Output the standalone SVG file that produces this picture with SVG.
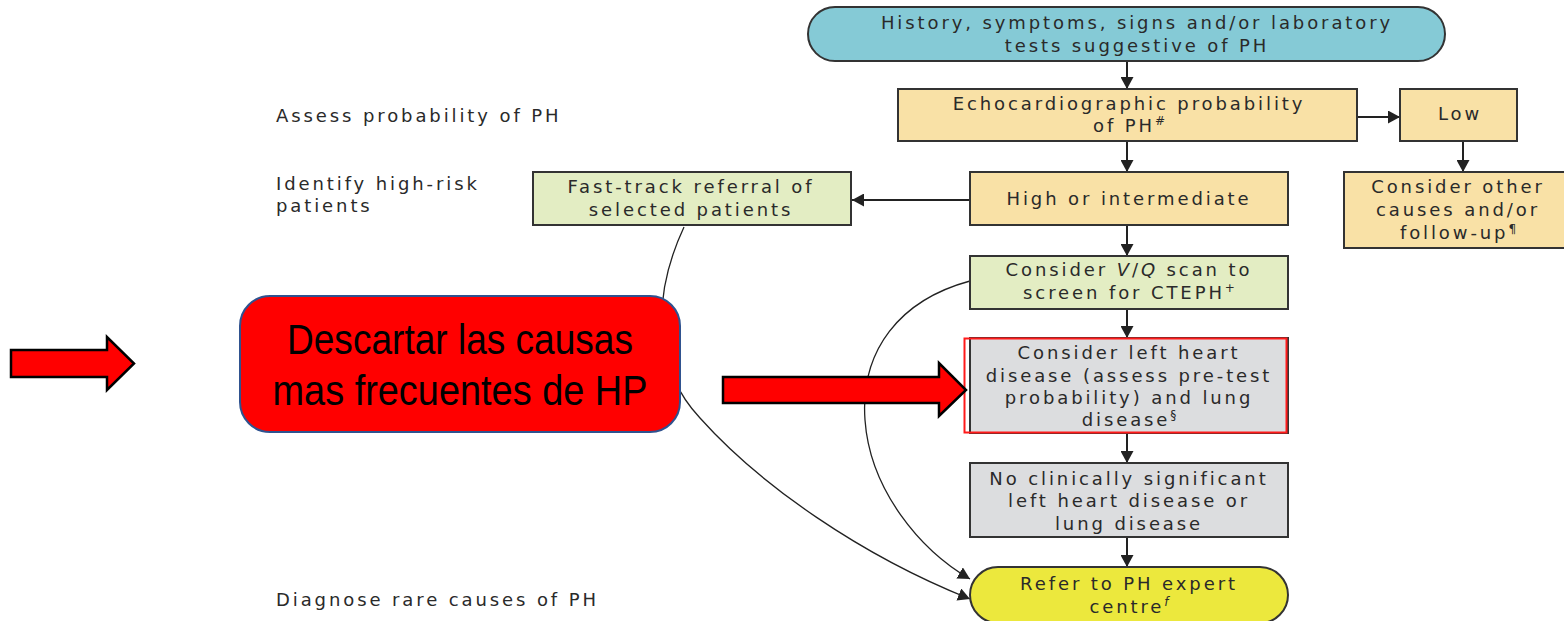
<svg xmlns="http://www.w3.org/2000/svg" width="1564" height="621" viewBox="0 0 1564 621">
  <style>
    .t { font-family: "DejaVu Sans", "Liberation Sans", sans-serif; font-size: 18px; letter-spacing: 2.9px; fill: #2a2a2a; text-anchor: middle; }
    .lbl { font-family: "DejaVu Sans", "Liberation Sans", sans-serif; font-size: 18px; letter-spacing: 2.9px; fill: #2a2a2a; }
    .box { stroke: #333; stroke-width: 2; }
    .blue { fill: #85cad6; }
    .orange { fill: #f9e1a6; }
    .green { fill: #e3edc3; }
    .grey { fill: #dcdddf; }
    .yellow { fill: #ece83d; }
    .link { stroke: #222; stroke-width: 2; fill: none; marker-end: url(#head); }
    .curve { stroke: #222; stroke-width: 1.3; fill: none; marker-end: url(#head); }
    .sup { font-size: 12px; letter-spacing: 0; }
    .big { font-family: "Liberation Sans Narrow", "Liberation Sans", Arial, sans-serif; font-size: 42px; fill: #000; text-anchor: middle; }
    .redarrow { fill: #ff0000; stroke: #000; stroke-width: 2.5; stroke-linejoin: miter; }
  </style>
  <defs>
    <marker id="head" markerUnits="userSpaceOnUse" markerWidth="13" markerHeight="13" refX="12" refY="6.5" orient="auto">
      <path d="M0,0 L12,6.5 L0,13 z" fill="#222"/>
    </marker>
  </defs>

  <rect width="1564" height="621" fill="#fff"/>

  <!-- stage labels -->
  <g id="stage-labels">
    <text class="lbl" x="276" y="122">Assess probability of PH</text>
    <text class="lbl" x="276" y="190">Identify high-risk</text>
    <text class="lbl" x="276" y="212">patients</text>
    <text class="lbl" x="276" y="606">Diagnose rare causes of PH</text>
  </g>

  <!-- connectors -->
  <g id="connectors">
    <line class="link" x1="1127" y1="61" x2="1127" y2="89"/>
    <line class="link" x1="1357" y1="117" x2="1400" y2="117"/>
    <line class="link" x1="1127" y1="141" x2="1127" y2="172"/>
    <line class="link" x1="1463" y1="141" x2="1463" y2="172"/>
    <line class="link" x1="970" y1="200" x2="852" y2="200"/>
    <line class="link" x1="1127" y1="225" x2="1127" y2="256"/>
    <line class="link" x1="1127" y1="309" x2="1127" y2="338"/>
    <line class="link" x1="1127" y1="433" x2="1127" y2="463"/>
    <line class="link" x1="1127" y1="537" x2="1127" y2="567"/>
    <path class="curve" d="M684,227 C650,300 655,370 700,418 C760,485 860,555 970,599"/>
    <path class="curve" d="M970,281 C900,300 860,350 865,420 C870,490 920,550 970,579"/>
  </g>

  <!-- flowchart nodes -->
  <g id="node-start">
    <rect class="box blue" x="808" y="7" width="637" height="54" rx="27" ry="27"/>
    <text class="t" x="1137" y="29">History, symptoms, signs and/or laboratory</text>
    <text class="t" x="1137" y="52">tests suggestive of PH</text>
  </g>

  <g id="node-echo">
    <rect class="box orange" x="898" y="89" width="459" height="52"/>
    <text class="t" x="1129" y="110">Echocardiographic probability</text>
    <text class="t" x="1129" y="132">of PH<tspan class="sup" dy="-7">#</tspan></text>
  </g>

  <g id="node-low">
    <rect class="box orange" x="1400" y="89" width="117" height="52"/>
    <text class="t" x="1460" y="120">Low</text>
  </g>

  <g id="node-other-causes">
    <rect class="box orange" x="1344" y="172" width="224" height="76"/>
    <text class="t" x="1458" y="193">Consider other</text>
    <text class="t" x="1458" y="216">causes and/or</text>
    <text class="t" x="1458" y="239">follow-up<tspan class="sup" dy="-6">¶</tspan></text>
  </g>

  <g id="node-high">
    <rect class="box orange" x="970" y="172" width="318" height="53"/>
    <text class="t" x="1129" y="205">High or intermediate</text>
  </g>

  <g id="node-fast-track">
    <rect class="box green" x="533" y="172" width="318" height="53"/>
    <text class="t" x="691" y="193">Fast-track referral of</text>
    <text class="t" x="691" y="216">selected patients</text>
  </g>

  <g id="node-vq">
    <rect class="box green" x="970" y="256" width="318" height="53"/>
    <text class="t" x="1129" y="276">Consider <tspan font-style="italic">V</tspan>/<tspan font-style="italic">Q</tspan> scan to</text>
    <text class="t" x="1129" y="299">screen for CTEPH<tspan class="sup" dy="-7">+</tspan></text>
  </g>

  <g id="node-left-heart">
    <rect class="box grey" x="970" y="338" width="318" height="95"/>
    <rect x="964.5" y="338.5" width="322" height="94" fill="none" stroke="#ff1a1a" stroke-width="2"/>
    <text class="t" x="1129" y="359">Consider left heart</text>
    <text class="t" x="1129" y="382">disease (assess pre-test</text>
    <text class="t" x="1129" y="404">probability) and lung</text>
    <text class="t" x="1129" y="426">disease<tspan class="sup" dy="-7">§</tspan></text>
  </g>

  <g id="node-no-disease">
    <rect class="box grey" x="970" y="463" width="318" height="74"/>
    <text class="t" x="1129" y="485">No clinically significant</text>
    <text class="t" x="1129" y="507">left heart disease or</text>
    <text class="t" x="1129" y="530">lung disease</text>
  </g>

  <g id="node-refer">
    <rect class="box yellow" x="970" y="567" width="318" height="56" rx="28" ry="28"/>
    <text class="t" x="1129" y="590">Refer to PH expert</text>
    <text class="t" x="1129" y="613">centre<tspan class="sup" dy="-7" font-style="italic">f</tspan></text>
  </g>

  <!-- highlight annotation -->
  <g id="note-arrow-left">
    <path class="redarrow" d="M11,350 L107,350 L107,337 L134,363.5 L107,390 L107,377 L11,377 z"/>
  </g>

  <g id="note-box">
    <rect x="240" y="296" width="440" height="136" rx="30" ry="30" fill="#ff0000" stroke="#2f528f" stroke-width="2"/>
    <text class="big" x="460" y="354" textLength="346" lengthAdjust="spacingAndGlyphs">Descartar las causas</text>
    <text class="big" x="460" y="405" textLength="375" lengthAdjust="spacingAndGlyphs">mas frecuentes de HP</text>
  </g>

  <g id="note-arrow-right">
    <path class="redarrow" d="M723,377 L939,377 L939,363 L966,390 L939,416 L939,403 L723,403 z"/>
  </g>
</svg>
